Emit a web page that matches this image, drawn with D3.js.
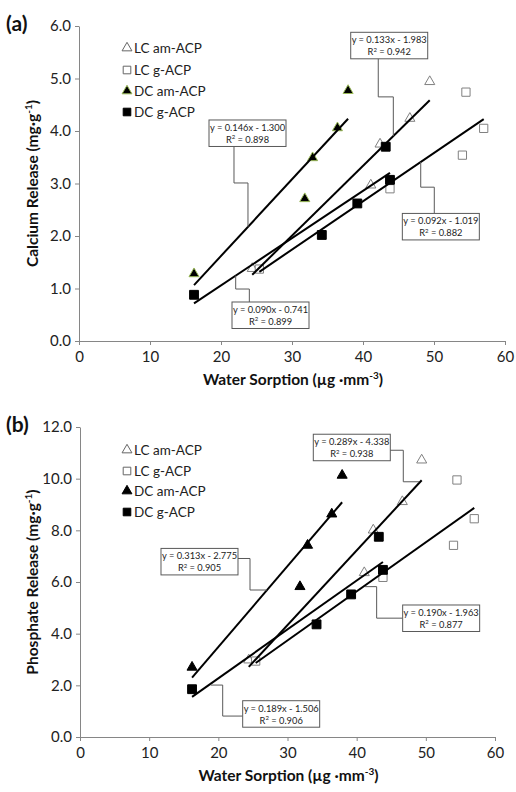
<!DOCTYPE html>
<html>
<head>
<meta charset="utf-8">
<script src="https://cdn.jsdelivr.net/npm/d3@7"></script>
<style>
  body { margin: 0; background: #fff; }
  text { font-family: Lato, "Open Sans", sans-serif; }
</style>
</head>
<body>
<div id="chart"></div>
<script>
// series order: LC am-ACP, LC g-ACP, DC am-ACP, DC g-ACP
var seriesNames = ["LC am-ACP", "LC g-ACP", "DC am-ACP", "DC g-ACP"];

// water sorption (x), same samples in both panels
var waterLCam = [24.4, 41.1, 42.4, 46.6, 49.4];
var waterLCg  = [25.4, 43.8, 54.0, 54.5, 57.0];
var waterDCam = [16.2, 31.8, 32.9, 36.4, 37.9];
var waterDCg  = [16.2, 34.2, 39.2, 43.2, 43.8];

// (a) calcium release
var caLCam = [1.38, 2.97, 3.75, 4.24, 4.94];
var caLCg  = [1.37, 2.90, 3.54, 4.74, 4.05];
var caDCam = [1.28, 2.71, 3.49, 4.06, 4.77];
var caDCg  = [0.88, 2.02, 2.62, 3.70, 3.07];
var caSlope = [0.133, 0.092, 0.146, 0.090];
var caIntercept = [-1.983, -1.019, -1.300, -0.741];
var caR2 = [0.942, 0.882, 0.898, 0.899];
var caTicks = [0, 1, 2, 3, 4, 5, 6];

// (b) phosphate release
var poLCam = [2.98, 6.36, 8.01, 9.11, 10.72];
var poLCg  = [2.94, 6.18, 7.42, 9.95, 8.45];
var poDCam = [2.70, 5.82, 7.42, 8.63, 10.13];
var poDCg  = [1.85, 4.36, 5.52, 7.75, 6.47];
var poSlope = [0.289, 0.190, 0.313, 0.189];
var poIntercept = [-4.338, -1.963, -2.775, -1.506];
var poR2 = [0.938, 0.877, 0.905, 0.906];
var poTicks = [0, 2, 4, 6, 8, 10, 12];

var xTicks = [0, 10, 20, 30, 40, 50, 60];

// equation boxes: left/top in data units, leader points in data units (null = on trendline)
var caBoxes = [[38.27, 5.88], [45.54, 2.43], [18.31, 4.21], [21.55, 0.743]];
var caLeaders = [
  [[42.15, 5.385], [42.15, 4.65], [44.27, 4.65], [44.27, null]],
  [[50.04, 2.43], [50.04, 2.93], [48.13, 2.93], [48.13, null]],
  [[21.83, 3.715], [21.83, 3.01], [23.8, 3.01], [23.8, null]],
  [[23.99, 0.743], [23.99, 0.99], [22.07, 0.99], [22.07, null]]
];
var poBoxes = [[33.73, 11.72], [46.65, 5.11], [11.71, 7.30], [23.52, 1.405]];
var poLeaders = [
  [[44.72, 11.10], [46.74, 11.10], [46.74, 9.88], [49.01, 9.88]],
  [[46.65, 4.60], [42.89, 4.60], [42.89, 5.82], [41.2, 5.82]],
  [[22.8, 6.91], [24.58, 6.91], [24.58, 5.69], [27.03, 5.69]],
  [[23.52, 0.81], [20.63, 0.81], [20.63, 2.01], [18.9, 2.01]]
];

var svg = d3.select("#chart").append("svg")
    .attr("width", 516)
    .attr("height", 792);

var fmt3 = d3.format(".3f");

function drawPanel(p) {
  var x = d3.scaleLinear().domain([0, 60]).range([p.left, p.right]);
  var y = d3.scaleLinear().domain([0, d3.max(p.yTicks)]).range([p.bottom, p.top]);
  var g = svg.append("g");

  // axes
  var yAxis = g.append("g").attr("transform", "translate(" + p.left + ",0)")
      .call(d3.axisLeft(y).tickValues(p.yTicks).tickFormat(d3.format(".1f")).tickSize(4).tickPadding(4).tickSizeOuter(0));
  var xAxis = g.append("g").attr("transform", "translate(0," + p.bottom + ")")
      .call(d3.axisBottom(x).tickValues(xTicks).tickFormat(d3.format("d")).tickSize(4).tickPadding(6).tickSizeOuter(0));
  [xAxis, yAxis].forEach(function(a){
    a.selectAll("path, line").attr("stroke", "#868686");
    a.selectAll("text").attr("font-size", 15).attr("fill", "#222")
      .attr("font-family", "Lato, sans-serif");
  });

  // axis titles
  var xt = g.append("text")
      .attr("x", (p.left + p.right) / 2 + 1)
      .attr("y", p.bottom + 44)
      .attr("text-anchor", "middle")
      .attr("font-size", 15.5).attr("font-weight", "bold").attr("fill", "#111");
  xt.append("tspan").text("Water Sorption (\u00b5g \u00b7mm");
  xt.append("tspan").text("-3").attr("font-size", 10).attr("dy", -6);
  xt.append("tspan").text(")").attr("dy", 6);

  var yt = g.append("text")
      .attr("transform", "translate(38," + (p.top + p.bottom) / 2 + ") rotate(-90)")
      .attr("text-anchor", "middle")
      .attr("font-size", 15.5).attr("font-weight", "bold").attr("fill", "#111");
  yt.append("tspan").text(p.yTitle + " (mg\u00b7g");
  yt.append("tspan").text("-1").attr("font-size", 10).attr("dy", -6);
  yt.append("tspan").text(")").attr("dy", 6);

  g.append("text").attr("x", 6).attr("y", p.top + 5)
      .attr("font-size", 21).attr("font-weight", "bold").attr("fill", "#111")
      .text(p.tag);

  // markers
  var tri = d3.symbol().type(d3.symbolTriangle).size(44);
  var sq = d3.symbol().type(d3.symbolSquare).size(68);
  var sqFill = d3.symbol().type(d3.symbolSquare).size(78);
  var styles = [
    { sym: tri, fill: "#fff", stroke: "#808080" },
    { sym: sq, fill: "#fff", stroke: "#808080" },
    { sym: tri, fill: "#000", stroke: p.dcStroke },
    { sym: sqFill, fill: "#000", stroke: "#000" }
  ];

  p.series.forEach(function(s, i) {
    var pts = s.x.map(function(v, j){ return [v, s.y[j]]; });
    g.selectAll(null).data(pts).enter().append("path")
      .attr("d", styles[i].sym)
      .attr("transform", function(d){ return "translate(" + x(d[0]) + "," + y(d[1]) + ")"; })
      .attr("fill", styles[i].fill)
      .attr("stroke", styles[i].stroke)
      .attr("stroke-width", 1);
  });

  // trendlines
  p.series.forEach(function(s, i) {
    var x0 = d3.min(s.x), x1 = d3.max(s.x);
    g.append("line")
      .attr("x1", x(x0)).attr("y1", y(p.slope[i] * x0 + p.intercept[i]))
      .attr("x2", x(x1)).attr("y2", y(p.slope[i] * x1 + p.intercept[i]))
      .attr("stroke", "#000").attr("stroke-width", 2);
  });

  // leaders and equation boxes
  var line = d3.line();
  p.leaders.forEach(function(pts, i) {
    var xy = pts.map(function(d){
      var yy = d[1] === null ? p.slope[i] * d[0] + p.intercept[i] : d[1];
      return [x(d[0]), y(yy)];
    });
    g.append("path").attr("d", line(xy))
      .attr("fill", "none").attr("stroke", "#595959").attr("stroke-width", 1);
  });

  p.boxes.forEach(function(b, i) {
    var bx = x(b[0]), by = y(b[1]), bw = 77, bh = 26.5;
    g.append("rect").attr("x", bx).attr("y", by).attr("width", bw).attr("height", bh)
      .attr("fill", "#fff").attr("stroke", "#595959").attr("stroke-width", 1);
    var b0 = p.intercept[i] < 0 ? " - " : " + ";
    g.append("text").attr("x", bx + bw / 2).attr("y", by + 11)
      .attr("text-anchor", "middle").attr("font-size", 9.3).attr("fill", "#222")
      .text("y = " + fmt3(p.slope[i]) + "x" + b0 + fmt3(Math.abs(p.intercept[i])));
    var t2 = g.append("text").attr("x", bx + bw / 2).attr("y", by + 23)
      .attr("text-anchor", "middle").attr("font-size", 9.3).attr("fill", "#222");
    t2.append("tspan").text("R");
    t2.append("tspan").text("2").attr("font-size", 6).attr("dy", -3.5);
    t2.append("tspan").text(" = " + fmt3(p.r2[i])).attr("dy", 3.5);
  });

  // legend
  var lg = g.append("g");
  seriesNames.forEach(function(n, i) {
    var ly = p.legendY[i];
    var sym = i === 0 || i === 2 ? d3.symbol().type(d3.symbolTriangle).size(42) : d3.symbol().type(d3.symbolSquare).size(58);
    lg.append("path").attr("d", sym)
      .attr("transform", "translate(127," + ly + ")")
      .attr("fill", styles[i].fill)
      .attr("stroke", i === 2 ? p.dcStroke : (i === 3 ? "#000" : "#666"))
      .attr("stroke-width", 1);
    lg.append("text").attr("x", 134).attr("y", ly + 5)
      .attr("font-size", 13.5).attr("fill", "#222").text(n);
  });
}

drawPanel({
  tag: "(a)", yTitle: "Calcium Release",
  left: 79, right: 505, top: 26, bottom: 341,
  yTicks: caTicks,
  series: [
    { x: waterLCam, y: caLCam }, { x: waterLCg, y: caLCg },
    { x: waterDCam, y: caDCam }, { x: waterDCg, y: caDCg }
  ],
  slope: caSlope, intercept: caIntercept, r2: caR2,
  boxes: caBoxes, leaders: caLeaders,
  dcStroke: "#9bbb59",
  legendY: [48, 70, 91, 112]
});

drawPanel({
  tag: "(b)", yTitle: "Phosphate Release",
  left: 80, right: 495, top: 427, bottom: 737,
  yTicks: poTicks,
  series: [
    { x: waterLCam, y: poLCam }, { x: waterLCg, y: poLCg },
    { x: waterDCam, y: poDCam }, { x: waterDCg, y: poDCg }
  ],
  slope: poSlope, intercept: poIntercept, r2: poR2,
  boxes: poBoxes, leaders: poLeaders,
  dcStroke: "#000",
  legendY: [450, 471, 491, 512]
});
</script>
</body>
</html>
